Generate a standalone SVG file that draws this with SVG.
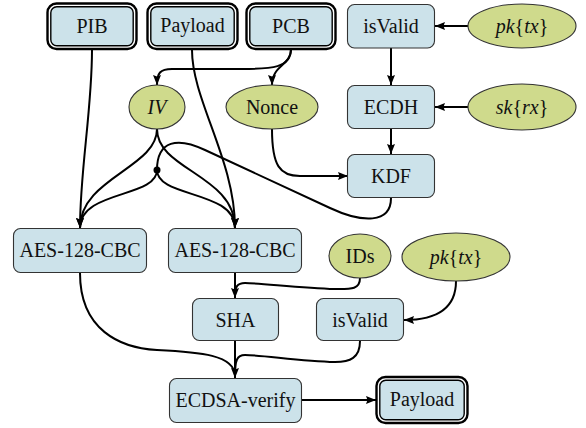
<svg xmlns="http://www.w3.org/2000/svg" width="586" height="428" viewBox="0 0 586 428">
<style>
.box{fill:#cce2ea;stroke:#333;stroke-width:1.1}
.outer{fill:#fff;stroke:#000;stroke-width:2.4}
.inner{fill:#cce2ea;stroke:#000;stroke-width:1.4}
.ell{fill:#cfda8c;stroke:#333;stroke-width:1.1}
.e{fill:none;stroke:#000;stroke-width:2}
.a{marker-end:url(#ah)}
</style>
<defs>
<marker id="ah" viewBox="0 0 10 8" refX="10" refY="4" markerWidth="10" markerHeight="8" markerUnits="userSpaceOnUse" orient="auto">
<path d="M0,0 L10,4 L0,8 L1.5,4 z" fill="#000"/>
</marker>
</defs>
<g id="edges">
<path class="e a" d="M92,50 C92,110 80,170 80,228"/>
<path class="e a" d="M192,50 C192,100 235,160 235,228"/>
<path class="e a" d="M291,49 C291,68 272,69 240,69 L172,69 C160,69 157,73 157,85"/>
<path class="e a" d="M291,49 C291,66 272,65 272,85"/>
<path class="e a" d="M272,129 C272,166 280,176 300,176 L348,176"/>
<path class="e a" d="M157,129 C157,168 80,178 80,228"/>
<path class="e a" d="M157,129 C157,170 235,175 235,228"/>
<path class="e" d="M157,170 C157,198 80,190 80,228"/>
<path class="e" d="M157,170 C157,198 235,190 235,228"/>
<path class="e" d="M391,198 C391,224 362,223 330,208 L205,150 C178,137 157,140 157,170"/>
<circle cx="157" cy="170" r="3.5" fill="#000"/>
<path class="e a" d="M391,48 L391,85"/>
<path class="e a" d="M468,26 L435,26"/>
<path class="e a" d="M468,107 L435,107"/>
<path class="e a" d="M391,129 L391,154"/>
<path class="e a" d="M235,273 L235,298"/>
<path class="e" d="M360,278 C360,290 350,289 335,289 C300,288 260,283 245,283 C237,283 235,287 235,296"/>
<path class="e a" d="M235,341 L235,378"/>
<path class="e" d="M360,341 C360,358 350,362 335,362 C300,361 262,355 245,355 C237,355 235,360 235,376"/>
<path class="e" d="M80,273 C80,330 120,348 157,350 C200,352 235,355 235,376"/>
<path class="e a" d="M456,281 C456,306 440,320 404,320"/>
<path class="e a" d="M302,400 L376,400"/>
</g>
<g font-family="Liberation Serif" font-size="20" fill="#111" text-anchor="middle">
<g id="PIB"><rect class="outer" x="47.5" y="3.5" width="89" height="45.5" rx="9"/><rect class="inner" x="50.8" y="6.8" width="82.4" height="38.9" rx="6"/><text font-family="Liberation Serif" font-size="20" x="92" y="33">PIB</text></g>
<g id="Payload1"><rect class="outer" x="147.5" y="3.5" width="90" height="45.5" rx="9"/><rect class="inner" x="150.8" y="6.8" width="83.4" height="38.9" rx="6"/><text font-family="Liberation Serif" font-size="20" x="192.5" y="32">Payload</text></g>
<g id="PCB"><rect class="outer" x="246.5" y="3.5" width="89" height="45.5" rx="9"/><rect class="inner" x="249.8" y="6.8" width="82.4" height="38.9" rx="6"/><text font-family="Liberation Serif" font-size="20" x="291" y="33">PCB</text></g>
<g id="isValid1"><rect class="box" x="347.5" y="4.5" width="87" height="43.5" rx="7"/><text font-family="Liberation Serif" font-size="20" x="391" y="33">isValid</text></g>
<g id="pk1"><ellipse class="ell" cx="522" cy="26" rx="54" ry="22"/><text font-family="Liberation Serif" font-size="20" x="522" y="33"><tspan font-style="italic">pk</tspan>{<tspan font-style="italic">tx</tspan>}</text></g>
<g id="IV"><ellipse class="ell" cx="157" cy="107" rx="28" ry="22"/><text font-family="Liberation Serif" font-size="20" font-style="italic" x="157" y="114">IV</text></g>
<g id="Nonce"><ellipse class="ell" cx="272" cy="107" rx="46" ry="22"/><text font-family="Liberation Serif" font-size="20" x="272" y="114">Nonce</text></g>
<g id="ECDH"><rect class="box" x="347.5" y="85.5" width="87" height="43" rx="7"/><text font-family="Liberation Serif" font-size="20" x="391" y="114">ECDH</text></g>
<g id="sk"><ellipse class="ell" cx="522" cy="107" rx="54" ry="23"/><text font-family="Liberation Serif" font-size="20" x="522" y="114"><tspan font-style="italic">sk</tspan>{<tspan font-style="italic">rx</tspan>}</text></g>
<g id="KDF"><rect class="box" x="347.5" y="154.5" width="87" height="43" rx="7"/><text font-family="Liberation Serif" font-size="20" x="391" y="183">KDF</text></g>
<g id="AES1"><rect class="box" x="13.5" y="228.5" width="133" height="44" rx="7"/><text font-family="Liberation Serif" font-size="20" x="80" y="257">AES-128-CBC</text></g>
<g id="AES2"><rect class="box" x="168.5" y="228.5" width="133" height="44" rx="7"/><text font-family="Liberation Serif" font-size="20" x="235" y="257">AES-128-CBC</text></g>
<g id="IDs"><ellipse class="ell" cx="360" cy="256" rx="31" ry="22"/><text font-family="Liberation Serif" font-size="20" x="360" y="263">IDs</text></g>
<g id="pk2"><ellipse class="ell" cx="456" cy="257" rx="54" ry="24"/><text font-family="Liberation Serif" font-size="20" x="456" y="264"><tspan font-style="italic">pk</tspan>{<tspan font-style="italic">tx</tspan>}</text></g>
<g id="SHA"><rect class="box" x="192.5" y="298.5" width="86" height="42" rx="7"/><text font-family="Liberation Serif" font-size="20" x="235.5" y="327">SHA</text></g>
<g id="isValid2"><rect class="box" x="316.5" y="298.5" width="87" height="42" rx="7"/><text font-family="Liberation Serif" font-size="20" x="360" y="327">isValid</text></g>
<g id="ECDSA"><rect class="box" x="169.5" y="378.5" width="132" height="44" rx="7"/><text font-family="Liberation Serif" font-size="20" x="235.5" y="407">ECDSA-verify</text></g>
<g id="Payload2"><rect class="outer" x="376.5" y="377" width="91" height="46" rx="9"/><rect class="inner" x="379.8" y="380.3" width="84.4" height="39.4" rx="6"/><text font-family="Liberation Serif" font-size="20" x="422" y="406">Payload</text></g>
</g>
</svg>
